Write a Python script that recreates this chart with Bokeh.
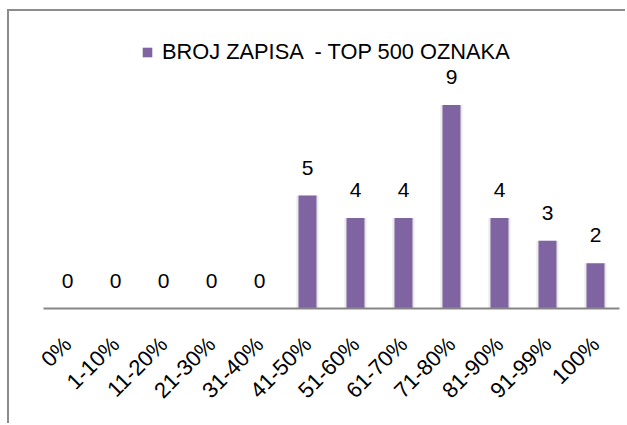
from bokeh.plotting import figure
from bokeh.models import ColumnDataSource, Legend, LegendItem, Range1d, FactorRange
from bokeh.core.properties import value
from bokeh.embed import file_html
from bokeh.resources import INLINE
import math

categories = ["0%", "1-10%", "11-20%", "21-30%", "31-40%", "41-50%",
              "51-60%", "61-70%", "71-80%", "81-90%", "91-99%", "100%"]
counts = [0, 0, 0, 0, 0, 5, 4, 4, 9, 4, 3, 2]
series_name = "BROJ ZAPISA  - TOP 500 OZNAKA"

PURPLE = "#8064A2"
FONT = "Liberation Sans"

src = ColumnDataSource(data=dict(cat=categories, val=counts,
                                 lab=[str(v) for v in counts]))

p = figure(width=618, height=414, output_backend="svg", toolbar_location=None,
           x_range=FactorRange(*categories, range_padding=0),
           y_range=Range1d(0, 297 / 22.6),
           min_border_left=34, min_border_right=8, min_border_top=0,
           min_border_bottom=117,
           styles={"margin-left": "7px", "margin-top": "9px",
                   "border-left": "2px solid #8c8c8c",
                   "border-top": "2px solid #8c8c8c"})
p.outline_line_color = None
p.xgrid.visible = False
p.ygrid.visible = False
p.yaxis.visible = False
p.background_fill_color = "white"
p.border_fill_color = "white"

# soft shadow behind bars
p.vbar(x="cat", top="val", width=0.46, source=src, fill_color="#e4e4e4",
       line_color=None, fill_alpha=0.8)
bars = p.vbar(x="cat", top="val", width=0.375, source=src, fill_color=PURPLE,
              line_color=None)

p.text(x="cat", y="val", text="lab", source=src, text_align="center",
       text_baseline="alphabetic", y_offset=-28, text_font=value(FONT),
       text_font_size="21px", text_color="#000000")

xa = p.xaxis[0]
xa.axis_line_color = "#868686"
xa.axis_line_width = 2
xa.major_tick_line_color = None
xa.minor_tick_line_color = None
xa.major_label_orientation = math.pi / 4
xa.major_label_standoff = 26
xa.major_label_text_font = FONT
xa.major_label_text_font_size = "22px"
xa.major_label_text_color = "#000000"

legend = Legend(items=[LegendItem(label=series_name, renderers=[bars])],
                location=(98, 243), orientation="horizontal",
                glyph_width=12, glyph_height=12, label_standoff=9,
                padding=0, margin=0, border_line_color=None,
                background_fill_alpha=0,
                label_text_font=FONT, label_text_font_size="21.8px",
                label_text_color="#000000")
p.add_layout(legend)

open("out.html", "w").write(file_html(p, INLINE))
